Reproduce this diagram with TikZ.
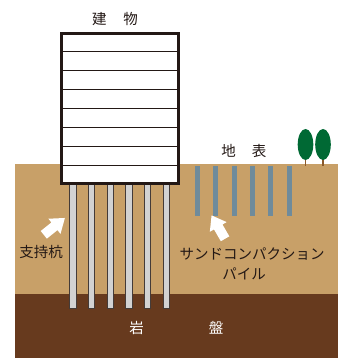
\documentclass[tikz,border=0pt]{standalone}
\usepackage{fontspec}
\newfontfamily\jp{Noto Sans CJK JP}
\usetikzlibrary{shapes.arrows}
\definecolor{soil}{HTML}{C8A068}
\definecolor{rock}{HTML}{673A1E}
\definecolor{sandblue}{HTML}{6F8B9B}
\definecolor{leaf}{HTML}{006934}
\definecolor{trunk}{HTML}{8B5A2B}
\definecolor{ink}{HTML}{231815}
\begin{document}
\begin{tikzpicture}[
  x=1pt, y=-1pt,
  every node/.style={font=\jp\fontsize{14.5}{17}\selectfont,text=ink,inner sep=0pt},
  pile/.style={draw=ink!85,fill=gray!35,line width=0.8pt},
  sandpile/.style={fill=sandblue},
  floor/.style={draw=ink,line width=1pt},
  tree/.style={fill=leaf},
  hint/.style={single arrow,fill=white,inner sep=4.7pt,minimum height=27pt,
    single arrow head extend=4.8pt,single arrow tip angle=72}
]
  \useasboundingbox (0,0) rectangle (338,358);
  \fill[soil] (15,164) rectangle (338,294);
  \fill[rock] (15,294) rectangle (338,358);

  \draw[pile] (69.5,183) rectangle (75.9,308);
  \draw[pile] (88.2,183) rectangle (94.6,308);
  \draw[pile] (106.9,183) rectangle (113.3,308);
  \draw[pile] (125.6,183) rectangle (132.0,308);
  \draw[pile] (144.3,183) rectangle (150.7,308);
  \draw[pile] (163.0,183) rectangle (169.4,308);

  \fill[sandpile] (195.0,166) rectangle (200.0,215.7);
  \fill[sandpile] (213.4,166) rectangle (218.4,215.7);
  \fill[sandpile] (231.7,166) rectangle (236.7,215.7);
  \fill[sandpile] (250.1,166) rectangle (255.1,215.7);
  \fill[sandpile] (268.4,166) rectangle (273.4,215.7);
  \fill[sandpile] (286.8,166) rectangle (291.8,215.7);

  \draw[ink,line width=3pt,fill=white] (61,33.5) rectangle (178,183.5);
  \draw[floor] (62.5,51.7) -- (176.5,51.7);
  \draw[floor] (62.5,70.7) -- (176.5,70.7);
  \draw[floor] (62.5,89.3) -- (176.5,89.3);
  \draw[floor] (62.5,108.3) -- (176.5,108.3);
  \draw[floor] (62.5,127.3) -- (176.5,127.3);
  \draw[floor] (62.5,146.3) -- (176.5,146.3);
  \draw[floor] (62.5,165.3) -- (176.5,165.3);

  \draw[trunk,line width=1.3pt] (305.3,157) -- (305.3,165.5);
  \draw[trunk,line width=1.3pt] (323.0,157) -- (323.0,165.5);
  \fill[tree] (305.5,144.5) ellipse [x radius=7.8,y radius=15.5];
  \fill[tree] (323.0,144.5) ellipse [x radius=7.8,y radius=15.5];

  \node (bldg) at (115,19) {建\hspace{17pt}物};
  \node (surf) at (243.8,151) {地\hspace{16pt}表};
  \node (bed) at (176.3,328) [text=white] {岩\hspace{65pt}盤};
  \node (bearing) at (41,252) {支持杭};
  \node (scp1) at (252,254) {サンドコンパクション};
  \node (scp2) at (244,274) {パイル};

  \node[hint,rotate=38.6] (arrL) at (51.7,228.5) {};
  \node[hint,rotate=120] (arrR) at (220,230) {};
\end{tikzpicture}
\end{document}
